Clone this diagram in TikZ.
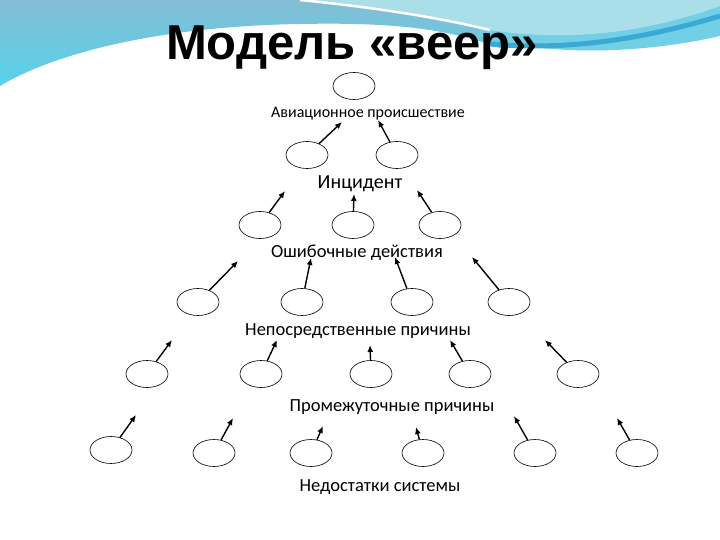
\documentclass[tikz,border=0pt]{standalone}
\usepackage{fontspec}
\setmainfont{Carlito}
\newfontfamily\titlefont{Liberation Sans}
\usetikzlibrary{arrows.meta, shapes.geometric}

\definecolor{skytop}{HTML}{84BDD5}
\definecolor{skylow}{HTML}{55D3EA}
\definecolor{palecyan}{HTML}{AADFE9}
\definecolor{bandcyan}{HTML}{72CFE5}
\definecolor{stripeblue}{HTML}{3AA9D5}

\begin{document}
\begin{tikzpicture}[x=1pt, y=-1pt,
  oval/.style={ellipse, draw=black, line width=0.6pt, minimum width=42pt,
    minimum height=27pt, inner sep=0pt},
  level/.style={anchor=mid, inner sep=1pt, font=\fontsize{18.5}{22}\selectfont},
  push/.style={-{Latex[length=7pt, width=6pt]}, line width=1.4pt, draw=black}
]
\useasboundingbox (0,0) rectangle (720,540);
\fill[white] (0,0) rectangle (720,540);

% wave at the top of the slide
\shade[top color=skytop, bottom color=skylow] (0,0) -- (0,86)
  .. controls (60,50) and (170,26) .. (300,24)
  .. controls (400,22) and (450,30) .. (500,48) -- (520,0) -- cycle;
\fill[bandcyan] (480,36) .. controls (560,60) and (660,50) .. (720,36)
  -- (720,0) -- (480,0) -- cycle;
\fill[palecyan] (310,0) .. controls (400,10) and (450,20) .. (490,30)
  .. controls (580,44) and (660,28) .. (720,6) -- (720,0) -- cycle;
\draw[stripeblue, line width=5pt] (490,44) .. controls (580,52) and (660,34) .. (720,16);
\draw[white, line width=2.5pt] (300,0) .. controls (380,8) and (440,18) .. (490,30);

\node[anchor=base, font=\titlefont\bfseries\fontsize{49}{55}\selectfont] (title)
  at (352,60) {Модель «веер»};

% level labels
\node[level, font=\fontsize{16}{19}\selectfont] (lbl0) at (368,115) {Авиационное происшествие};
\node[level, font=\fontsize{20}{24}\selectfont] (lbl1) at (360,186) {Инцидент};
\node[level] (lbl2) at (357,255) {Ошибочные действия};
\node[level] (lbl3) at (358,333) {Непосредственные причины};
\node[level] (lbl4) at (392,409) {Промежуточные причины};
\node[level] (lbl5) at (380,489) {Недостатки системы};

% ovals, row by row
\node[oval] (e00) at (354,86) {};

\node[oval] (e10) at (307,155) {};
\node[oval] (e11) at (397,155) {};

\node[oval] (e20) at (260,225) {};
\node[oval] (e21) at (353,225) {};
\node[oval] (e22) at (440,225) {};

\node[oval] (e30) at (198,302) {};
\node[oval] (e31) at (302,302) {};
\node[oval] (e32) at (412,302) {};
\node[oval] (e33) at (509,302) {};

\node[oval] (e40) at (147,374) {};
\node[oval] (e41) at (261,374) {};
\node[oval] (e42) at (371,374) {};
\node[oval] (e43) at (470,374) {};
\node[oval] (e44) at (578,374) {};

\node[oval] (e50) at (111,450) {};
\node[oval] (e51) at (214,453) {};
\node[oval] (e52) at (311,453) {};
\node[oval] (e53) at (423,453) {};
\node[oval] (e54) at (535,453) {};
\node[oval] (e55) at (637,453) {};

% arrow ends near the labels
\coordinate (t10) at (342,122);
\coordinate (t11) at (378,120);
\coordinate (t20) at (285,191);
\coordinate (t21) at (354,194);
\coordinate (t22) at (417,190);
\coordinate (t30) at (238,261);
\coordinate (t31) at (311,258);
\coordinate (t32) at (395,257);
\coordinate (t33) at (472,257);
\coordinate (t40) at (172,340);
\coordinate (t41) at (277,340);
\coordinate (t42) at (370,345);
\coordinate (t43) at (450,340);
\coordinate (t44) at (545,340);
\coordinate (t50) at (136,415);
\coordinate (t51) at (233,418);
\coordinate (t52) at (323,426);
\coordinate (t53) at (416,427);
\coordinate (t54) at (514,416);
\coordinate (t55) at (617,418);

\draw[push] (e10) -- (t10);
\draw[push] (e11) -- (t11);
\draw[push] (e20) -- (t20);
\draw[push] (e21) -- (t21);
\draw[push] (e22) -- (t22);
\draw[push] (e30) -- (t30);
\draw[push] (e31) -- (t31);
\draw[push] (e32) -- (t32);
\draw[push] (e33) -- (t33);
\draw[push] (e40) -- (t40);
\draw[push] (e41) -- (t41);
\draw[push] (e42) -- (t42);
\draw[push] (e43) -- (t43);
\draw[push] (e44) -- (t44);
\draw[push] (e50) -- (t50);
\draw[push] (e51) -- (t51);
\draw[push] (e52) -- (t52);
\draw[push] (e53) -- (t53);
\draw[push] (e54) -- (t54);
\draw[push] (e55) -- (t55);

\end{tikzpicture}
\end{document}
